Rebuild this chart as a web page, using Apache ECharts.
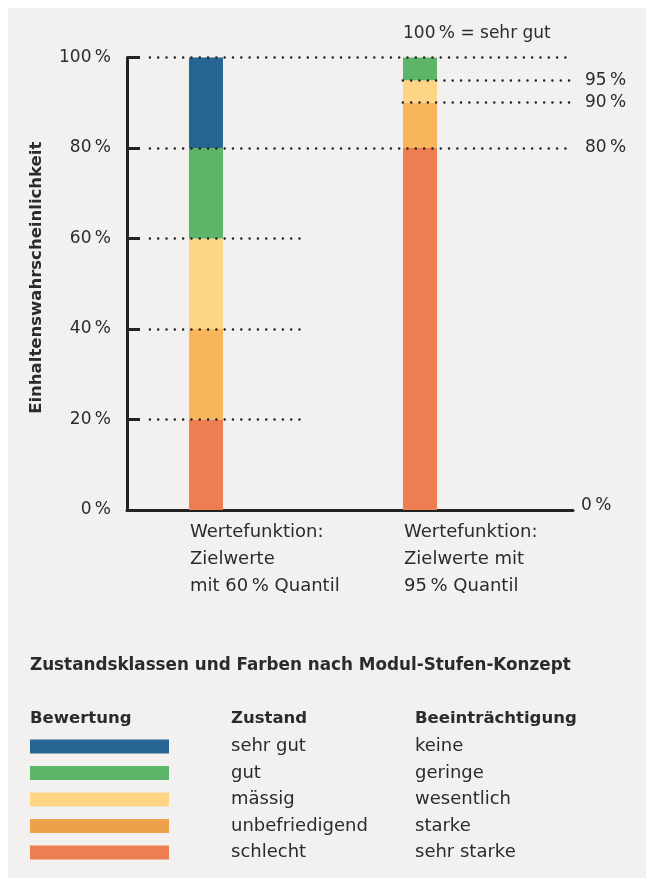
<!DOCTYPE html>
<html><head><meta charset="utf-8">
<script src="https://cdn.jsdelivr.net/npm/echarts@6/dist/echarts.min.js"></script>
<style>html,body{margin:0;padding:0;background:#fff;}#c{width:646px;height:878px;}</style>
</head><body><div id="c"></div>
<script>
// ---- data ----
const categories = ['Wertefunktion:\nZielwerte\nmit 60\u2009% Quantil', 'Wertefunktion:\nZielwerte mit\n95\u2009% Quantil'];
const classNames = ['schlecht', 'unbefriedigend', 'mässig', 'gut', 'sehr gut'];
const schlecht = [20, 80];
const unbefriedigend = [20, 10];
const maessig = [20, 5];
const gut = [20, 5];
const sehrGut = [20, 0];
const yTicks = [0, 20, 40, 60, 80, 100];
const guideLeft = [20, 40, 60];      // short dotted lines near bar 1
const guideFull = [80, 100];         // long dotted lines
const guideRight = [90, 95];         // dotted lines starting at bar 2
const rightLabels = [80, 90, 95];
const legendZustand = ['sehr gut', 'gut', 'mässig', 'unbefriedigend', 'schlecht'];
const legendBeeintr = ['keine', 'geringe', 'wesentlich', 'starke', 'sehr starke'];

// ---- styles ----
const FONT = 'DejaVu Sans';
const TXT = '#2b2b2b';
const barColors = ['#ec7e51', '#f9b55a', '#fdd585', '#5db569', '#276693'];
const legendColors = ['#276693', '#5db569', '#fdd585', '#eba24a', '#ec7e51'];
const pct = v => v + '\u2009%';

const XMIN = -0.369, XMAX = 1.715;
const shortEnd = 0.449, fullStart = -0.262, rightStart = 0.92;
const dotted = {type: [0.01, 8.3], width: 2.5, color: '#222', cap: 'round'};

const seriesVals = [schlecht, unbefriedigend, maessig, gut, sehrGut];
const series = seriesVals.map((vals, i) => ({
  type: 'bar', name: classNames[i], stack: 'total', barWidth: 34,
  data: vals.map((v, k) => [v, k]),
  encode: {x: 1, y: 0},
  itemStyle: {color: barColors[i]},
  silent: true
}));

const mlData = [];
guideLeft.forEach(y => mlData.push([{coord: [fullStart, y]}, {coord: [shortEnd, y]}]));
guideFull.forEach(y => mlData.push([{coord: [fullStart, y]}, {coord: [XMAX, y],
  label: {show: rightLabels.includes(y), formatter: pct(y)}}]));
guideRight.forEach(y => mlData.push([{coord: [rightStart, y]}, {coord: [XMAX, y],
  label: {show: rightLabels.includes(y), formatter: pct(y)}}]));

series.push({
  type: 'line', data: [], silent: true,
  markLine: {
    silent: true, symbol: 'none', animation: false,
    lineStyle: dotted,
    label: {show: false, position: 'end', distance: 12, fontFamily: FONT, fontSize: 17, color: TXT},
    data: mlData
  }
});

const chart = echarts.init(document.getElementById('c'), null, {renderer: 'canvas'});

const graphic = [
  {type: 'rect', shape: {x: 8, y: 8, width: 646, height: 878}, style: {fill: '#f2f1ef'}, z: -10},
  {type: 'text', x: 403, y: 34, style: {text: '100\u2009% = sehr gut', font: '17px ' + FONT, fill: TXT, verticalAlign: 'middle'}},
  {type: 'text', x: 30, y: 666, style: {text: 'Zustandsklassen und Farben nach Modul-Stufen-Konzept', font: 'bold 16.8px ' + FONT, fill: TXT, verticalAlign: 'middle'}},
  {type: 'text', x: 30, y: 719, style: {text: 'Bewertung', font: 'bold 16.5px ' + FONT, fill: TXT, verticalAlign: 'middle'}},
  {type: 'text', x: 231, y: 719, style: {text: 'Zustand', font: 'bold 16.5px ' + FONT, fill: TXT, verticalAlign: 'middle'}},
  {type: 'text', x: 415, y: 719, style: {text: 'Beeinträchtigung', font: 'bold 16.5px ' + FONT, fill: TXT, verticalAlign: 'middle'}}
];
const rowY = [746.5, 773, 799.5, 826, 852.5];
legendZustand.forEach((t, i) => {
  graphic.push({type: 'rect', shape: {x: 30, y: rowY[i] - 7, width: 139, height: 14}, style: {fill: legendColors[i]}});
  graphic.push({type: 'text', x: 231, y: rowY[i], style: {text: t, font: '18px ' + FONT, fill: TXT, verticalAlign: 'middle'}});
  graphic.push({type: 'text', x: 415, y: rowY[i], style: {text: legendBeeintr[i], font: '18px ' + FONT, fill: TXT, verticalAlign: 'middle'}});
});

chart.setOption({
  backgroundColor: '#ffffff',
  animation: false,
  textStyle: {fontFamily: FONT},
  grid: {left: 127, right: 73, top: 57.5, bottom: 368, containLabel: false},
  xAxis: {
    type: 'value', min: XMIN, max: XMAX,
    axisLine: {show: true, onZero: false, lineStyle: {color: '#222', width: 3}},
    axisTick: {show: false},
    splitLine: {show: false},
    axisLabel: {
      customValues: [0, 1],
      formatter: v => categories[Math.round(v)] || '',
      align: 'left', padding: [0, 0, 0, -16],
      fontFamily: FONT, fontSize: 18, color: TXT, lineHeight: 27, margin: 9
    },
    name: '0\u2009%', nameLocation: 'end', nameGap: 8,
    nameTextStyle: {fontFamily: FONT, fontSize: 17, color: TXT, verticalAlign: 'bottom', padding: [0, 0, -4, 0]}
  },
  yAxis: {
    type: 'value', min: 0, max: 100, interval: 20,
    axisLine: {show: true, onZero: false, lineStyle: {color: '#222', width: 3}},
    axisTick: {show: true, inside: true, length: 13, lineStyle: {color: '#222', width: 3}},
    splitLine: {show: false},
    axisLabel: {formatter: v => pct(v), fontFamily: FONT, fontSize: 17, color: TXT, margin: 16},
    name: 'Einhaltenswahrscheinlichkeit', nameLocation: 'middle', nameRotate: 90, nameGap: 82,
    nameTextStyle: {fontFamily: FONT, fontSize: 16.5, fontWeight: 'bold', color: TXT, padding: [0, 0, 0, 12]}
  },
  graphic: graphic,
  series: series
});
</script></body></html>
